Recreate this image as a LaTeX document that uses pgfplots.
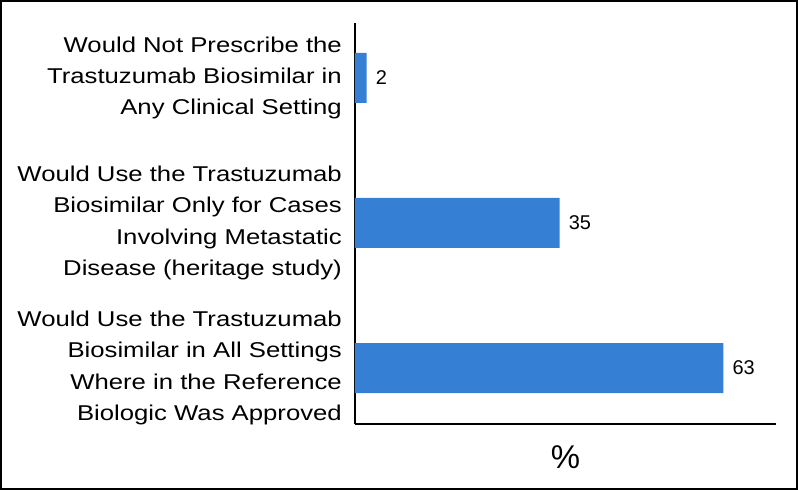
\documentclass[border=0pt]{standalone}
\usepackage{fontspec}
\setmainfont{Liberation Sans}
\newfontfamily\labelfont[FakeStretch=1.2]{Liberation Sans}
\usepackage{pgfplots}
\pgfplotsset{compat=1.18}
\usetikzlibrary{calc}
\definecolor{barblue}{HTML}{3580D4}

\begin{document}
\begin{tikzpicture}
\begin{axis}[
  name=ax,
  scale only axis,
  width=421bp, height=401bp,
  xbar,
  bar width=50bp,
  xmin=0, xmax=72,
  ymin=-0.386, ymax=2.379,
  axis x line*=bottom,
  axis y line*=left,
  axis line style={line width=2bp, -},
  xtick=\empty,
  ytick={0,1,2},
  major tick length=0pt,
  yticklabels={
    {Would Use the Trastuzumab\\Biosimilar in All Settings\\Where in the Reference\\Biologic Was Approved},
    {Would Use the Trastuzumab\\Biosimilar Only for Cases\\Involving Metastatic\\Disease (heritage study)},
    {Would Not Prescribe the\\Trastuzumab Biosimilar in\\Any Clinical Setting}},
  yticklabel style={align=right, anchor=east, inner sep=0pt, xshift=-13bp,
    font=\labelfont\fontsize{21.5}{31.5}\selectfont},
  /pgf/number format/assume math mode=true,
  nodes near coords,
  nodes near coords style={anchor=west, inner sep=0pt, xshift=9bp,
    font=\fontsize{20}{22}\selectfont},
  xlabel={\%},
  xlabel style={at={(axis description cs:0.5,0)}, anchor=center, yshift=-33bp,
    font=\fontsize{33}{35}\selectfont},
]
\addplot[fill=barblue, draw=none] coordinates {(63,0) (35,1) (2,2)};
\end{axis}
\draw[line width=2bp] ($(ax.south west)+(-354bp,-65bp)$) rectangle ($(ax.south west)+(442bp,423bp)$);
\end{tikzpicture}
\end{document}
